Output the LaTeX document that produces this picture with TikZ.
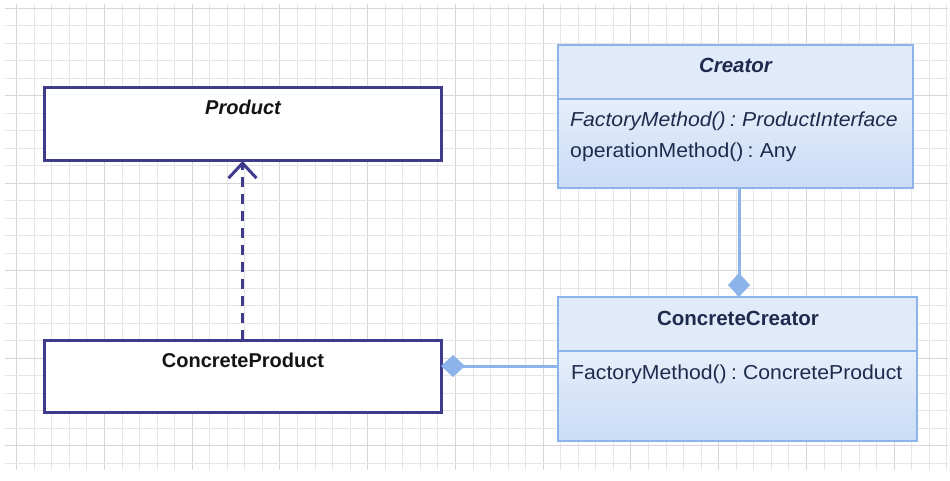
\documentclass[tikz,border=0pt]{standalone}
\usepackage{fontspec}
\setmainfont{Liberation Sans}
\newfontfamily\widefont[FakeStretch=1.05]{Liberation Sans}
\newcommand\tightsp{\spaceskip=0.21em plus 0pt minus 0pt\relax}
\usetikzlibrary{arrows.meta}
\definecolor{navy}{HTML}{3E3B8C}
\definecolor{lblue}{HTML}{8DB4EA}
\definecolor{hdrfill}{HTML}{E0EAF9}
\definecolor{fillA}{HTML}{E6EEFA}
\definecolor{fillB}{HTML}{C9DBF6}
\definecolor{txtblue}{HTML}{1E2B4C}
\definecolor{txtdark}{HTML}{141414}
\definecolor{gridminor}{HTML}{E6E6E6}
\definecolor{gridmajor}{HTML}{D6D6D6}
\begin{document}
\begin{tikzpicture}[x=1pt,y=-1pt,
  every node/.style={font=\fontsize{20}{24}\selectfont},
  pbox/.style={draw=navy, line width=3pt, fill=white, inner sep=0pt, outer sep=0pt, minimum width=397pt},
  bhdr/.style={draw=lblue, line width=2.5pt, fill=hdrfill, inner sep=0pt, outer sep=0pt, minimum height=54pt},
  bbody/.style={draw=lblue, line width=2.5pt, top color=fillA, bottom color=fillB, inner sep=0pt, outer sep=0pt},
  ptitle/.style={anchor=base, text=txtdark, inner sep=0pt, font=\fontsize{20}{24}\selectfont\bfseries},
  btitle/.style={anchor=base, text=txtblue, inner sep=0pt, font=\fontsize{20.5}{24}\selectfont\bfseries},
  bline/.style={anchor=base west, text=txtblue, inner sep=0pt, font=\widefont\fontsize{20.2}{24}\selectfont},
  real/.style={draw=navy, line width=3pt, dash pattern=on 10pt off 7pt, -{Straight Barb[length=15pt,width=28pt]}},
  comp/.style={draw=lblue, line width=3pt, -{Diamond[length=24pt,width=22pt,fill=lblue]}},
  gmin/.style={draw=gridminor, line width=1pt},
  gmaj/.style={draw=gridmajor, line width=1pt}
]
\useasboundingbox (0,0) rectangle (950,481);
\fill[white] (0,0) rectangle (950,481);
% grid
\foreach \i in {0,...,53}{
  \pgfmathsetmacro\xx{16.7+17.55*\i}
  \pgfmathtruncatemacro\mm{mod(\i,5)}
  \ifnum\mm=0 \draw[gmaj] (\xx,4) -- (\xx,470); \else \draw[gmin] (\xx,4) -- (\xx,470); \fi
}
\foreach \j in {0,...,26}{
  \pgfmathsetmacro\yy{8.3+17.5*\j}
  \pgfmathtruncatemacro\mm{mod(\j,5)}
  \ifnum\mm=0 \draw[gmaj] (5,\yy) -- (948,\yy); \else \draw[gmin] (5,\yy) -- (948,\yy); \fi
}
% boxes
\node[pbox, minimum height=73pt] (product) at (242.5,124.5) {};
\node[pbox, minimum height=72pt] (cproduct) at (242.5,376) {};
\node[bhdr, minimum width=355pt] (creatorH) at (735.5,72) {};
\node[bbody, minimum width=355pt, minimum height=89pt] (creatorB) at (735.5,143.5) {};
\node[bhdr, minimum width=359pt] (ccreatorH) at (737.5,324) {};
\node[bbody, minimum width=359pt, minimum height=90pt] (ccreatorB) at (737.5,396) {};
% texts
\node[ptitle] (productT) at (243,115) {\itshape Product};
\node[ptitle] (cproductT) at (243,367) {ConcreteProduct};
\node[btitle] (creatorT) at (735.5,73) {\itshape Creator};
\node[bline] (creatorM1) at (570,127) {\tightsp\itshape FactoryMethod() : ProductInterface};
\node[bline] (creatorM2) at (570,158) {\tightsp operationMethod() : Any};
\node[btitle] (ccreatorT) at (738,325) {ConcreteCreator};
\node[bline] (ccreatorM1) at (571,379) {\tightsp FactoryMethod() : ConcreteProduct};
% connectors
\draw[real] (cproduct.north) -- (product.south);
\coordinate (vx) at (739,0);
\draw[comp] (vx |- creatorB.south) -- (vx |- ccreatorH.north);
\coordinate (hy) at (0,366);
\draw[comp] (hy -| ccreatorB.west) -- (hy -| cproduct.east);
\end{tikzpicture}
\end{document}
